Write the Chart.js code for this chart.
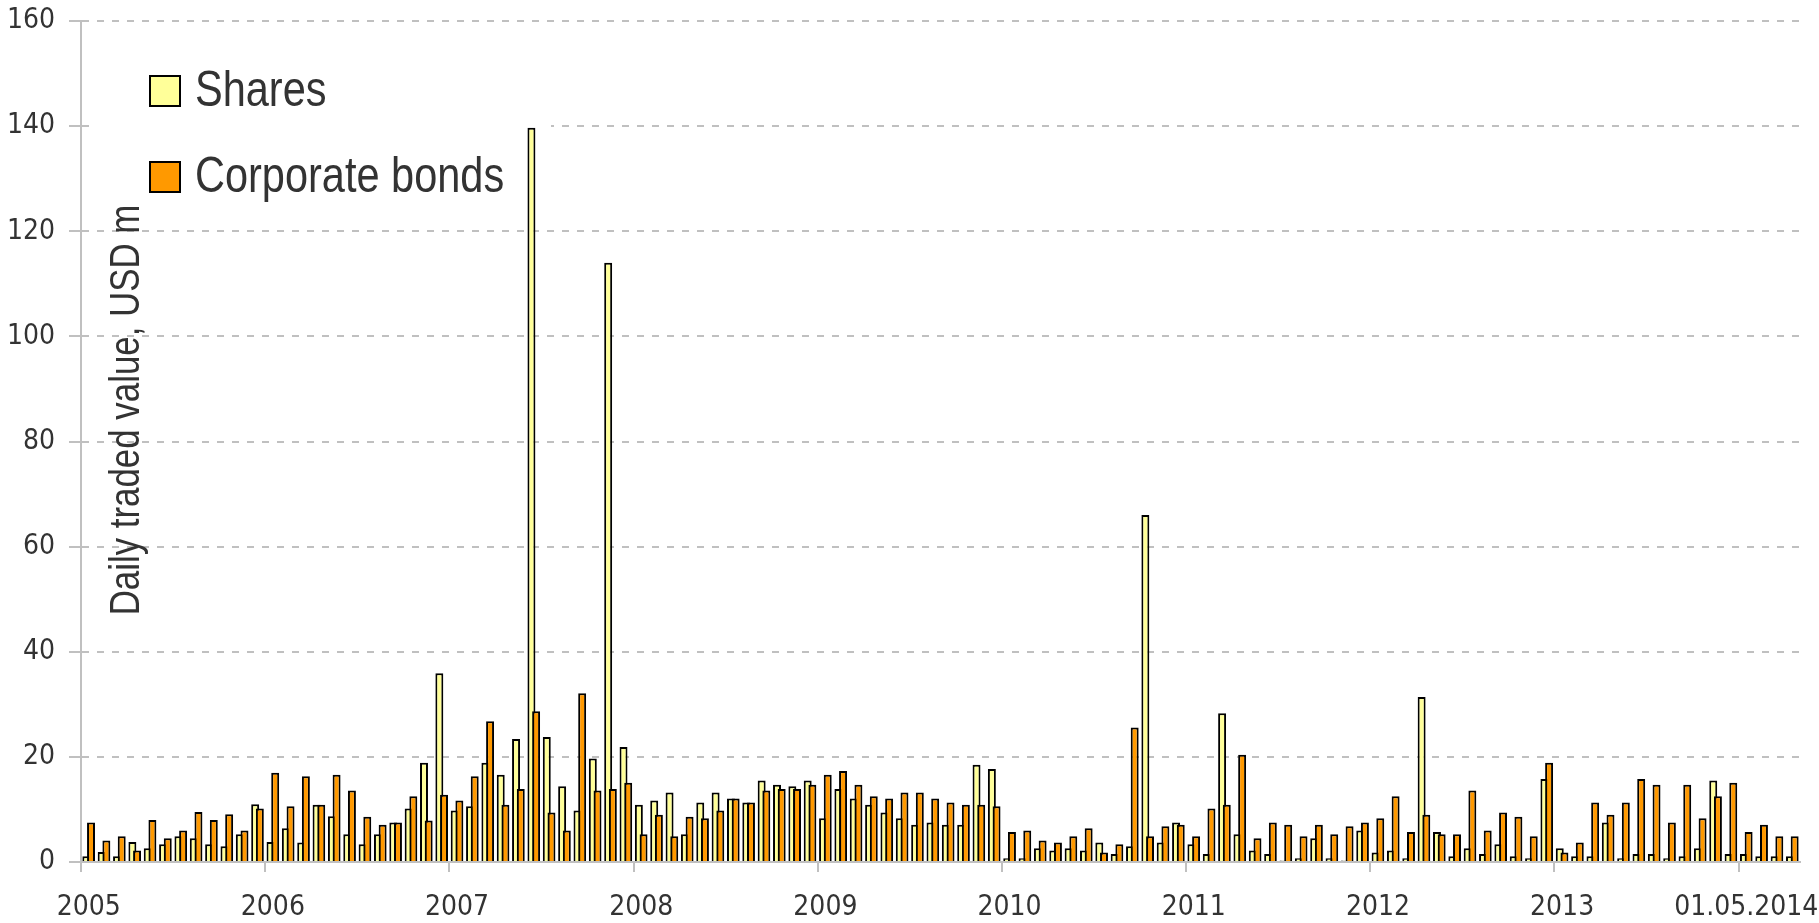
<!DOCTYPE html>
<html>
<head>
<meta charset="utf-8">
<title>Daily traded value</title>
<script src="https://cdn.jsdelivr.net/npm/chart.js@4.4.1/dist/chart.umd.min.js"></script>
<style>
  html, body { margin: 0; padding: 0; background: #fff; }
  #wrap { width: 1819px; height: 923px; }
</style>
</head>
<body>
<div id="wrap"><canvas id="chart"></canvas></div>
<script>
// monthly categories, Jan 2005 .. Apr 2014
const categories = [];
for (let y = 2005; y <= 2014; y++) {
  for (let m = 1; m <= 12; m++) {
    if (y === 2014 && m > 4) break;
    categories.push(y + '-' + String(m).padStart(2, '0'));
  }
}

const yearLabels = ['2005', '2006', '2007', '2008', '2009', '2010', '2011', '2012', '2013', '01.05.2014'];
const seriesNames = ['Shares', 'Corporate bonds'];
const yTitle = 'Daily traded value, USD m';

const shares = [
  1.1, 1.9, 1.1, 3.8, 2.6, 3.4, 4.9, 4.5, 3.4, 3.0, 5.3, 11.0,
  3.8, 6.4, 3.7, 10.9, 8.7, 5.3, 3.4, 5.3, 7.5, 10.2, 18.9, 35.9,
  9.8, 10.6, 18.9, 16.6, 23.4, 139.7, 23.8, 14.4, 9.8, 19.7, 114.0, 21.9,
  10.9, 11.7, 13.2, 5.3, 11.3, 13.2, 12.1, 11.3, 15.5, 14.7, 14.4, 15.5,
  8.3, 13.9, 12.1, 10.9, 9.4, 8.3, 7.1, 7.5, 7.1, 7.1, 18.5, 17.7,
  0.7, 0.7, 2.6, 2.2, 2.6, 2.2, 3.7, 1.5, 3.0, 66.0, 3.7, 7.5,
  3.4, 1.5, 28.3, 5.3, 2.2, 1.5, 0.3, 0.7, 4.5, 0.7, 0.3, 6.0,
  1.8, 2.2, 0.7, 31.4, 5.7, 1.1, 2.6, 1.5, 3.4, 1.1, 0.7, 15.8,
  2.6, 1.1, 1.1, 7.5, 0.7, 1.5, 1.5, 0.7, 1.1, 2.6, 15.5, 1.5,
  1.5, 1.1, 1.1, 1.1
];

const bonds = [
  7.5, 4.1, 4.9, 2.2, 8.0, 4.5, 6.0, 9.5, 8.0, 9.1, 6.0, 10.2,
  17.0, 10.6, 16.3, 10.9, 16.6, 13.6, 8.6, 7.1, 7.5, 12.5, 7.9, 12.8,
  11.7, 16.3, 26.8, 10.9, 13.9, 28.7, 9.4, 6.0, 32.1, 13.6, 13.9, 15.1,
  5.3, 9.0, 4.9, 8.6, 8.3, 9.8, 12.1, 11.3, 13.6, 13.9, 13.9, 14.7,
  16.6, 17.3, 14.7, 12.5, 12.1, 13.2, 13.2, 12.1, 11.3, 10.9, 10.9, 10.6,
  5.7, 6.0, 4.1, 3.7, 4.9, 6.4, 1.8, 3.4, 25.6, 4.9, 6.8, 7.1,
  4.9, 10.2, 10.9, 20.4, 4.5, 7.5, 7.1, 4.9, 7.1, 5.3, 6.8, 7.5,
  8.3, 12.5, 5.7, 9.0, 5.3, 5.3, 13.6, 6.0, 9.4, 8.6, 4.9, 18.9,
  1.8, 3.7, 11.3, 9.0, 11.3, 15.8, 14.7, 7.5, 14.7, 8.3, 12.5, 15.1,
  5.7, 7.1, 4.9, 4.9
];

const TICK_FONT = "'DejaVu Sans Condensed', 'Liberation Sans Narrow', sans-serif";
const LABEL_FONT = "'Liberation Sans', Arial, sans-serif";
const NARROW = 0.83; // squeeze Liberation Sans to look like Arial Narrow
const TEXT = '#333333';
const GRID = '#c0c0c0';

// shares go under the bonds where the two bars overlap
const sharesBehind = {
  id: 'sharesBehind',
  beforeDatasetsDraw(chart) {
    const a = chart.chartArea;
    // legend background hides the grid lines behind it
    chart.ctx.save();
    chart.ctx.fillStyle = '#ffffff';
    chart.ctx.fillRect(a.left + 12, a.top + 30, 458, 160);
    chart.ctx.restore();
    chart.getDatasetMeta(0).controller.draw();
  },
  beforeDatasetDraw(chart, args) {
    if (args.index === 0) return false;
  }
};

const legendAndTitle = {
  id: 'legendAndTitle',
  afterDraw(chart) {
    const ctx = chart.ctx;
    const a = chart.chartArea;
    ctx.save();
    chart.data.datasets.forEach((ds, i) => {
      const bx = a.left + 69;
      const by = a.top + 55 + i * 86;
      ctx.fillStyle = ds.backgroundColor;
      ctx.fillRect(bx, by, 30, 30);
      ctx.lineWidth = 2;
      ctx.strokeStyle = '#000';
      ctx.strokeRect(bx, by, 30, 30);
      ctx.save();
      ctx.translate(bx + 45, by + 16);
      ctx.scale(NARROW, 1);
      ctx.fillStyle = TEXT;
      ctx.font = '50px ' + LABEL_FONT;
      ctx.textBaseline = 'middle';
      ctx.textAlign = 'left';
      ctx.fillText(ds.label, 0, 0);
      ctx.restore();
    });
    // axis title sits inside the plot area
    ctx.translate(a.left + 58, a.top + 389);
    ctx.rotate(-Math.PI / 2);
    ctx.scale(NARROW, 1);
    ctx.fillStyle = TEXT;
    ctx.font = '42px ' + LABEL_FONT;
    ctx.textAlign = 'center';
    ctx.textBaseline = 'alphabetic';
    ctx.fillText(yTitle, 0, 0);
    ctx.restore();
  }
};

new Chart(document.getElementById('chart'), {
  type: 'bar',
  data: {
    labels: categories,
    datasets: [{
      label: seriesNames[0],
      data: shares,
      backgroundColor: '#ffff99',
      borderColor: '#000000',
      borderWidth: 2,
      categoryPercentage: 0.61,
      barPercentage: 1.7
    }, {
      label: seriesNames[1],
      data: bonds,
      backgroundColor: '#ff9900',
      borderColor: '#000000',
      borderWidth: 2,
      categoryPercentage: 0.61,
      barPercentage: 1.7
    }]
  },
  options: {
    responsive: true,
    maintainAspectRatio: false,
    animation: false,
    devicePixelRatio: 1,
    layout: {
      padding: { left: 0, right: 19, top: 21, bottom: 0 }
    },
    plugins: {
      legend: { display: false },
      tooltip: { enabled: false }
    },
    scales: {
      x: {
        afterFit: (s) => { s.height = 61; },
        grid: {
          offset: true,
          drawOnChartArea: false,
          drawTicks: true,
          tickLength: 10,
          lineWidth: 2,
          color: (c) => c.index % 12 === 0 ? GRID : 'rgba(0,0,0,0)'
        },
        border: { color: GRID, width: 2 },
        ticks: {
          autoSkip: false,
          maxRotation: 0,
          minRotation: 0,
          padding: 23,
          color: TEXT,
          font: { family: TICK_FONT, size: 28, lineHeight: 0.9 },
          callback: (v, i) => i % 12 === 0 ? yearLabels[i / 12] : ''
        }
      },
      y: {
        min: 0,
        max: 160,
        afterFit: (s) => {
          s.width = 81;
          s.paddingTop = 0;
          s.paddingBottom = 0;
        },
        grid: {
          color: GRID,
          lineWidth: 2,
          tickLength: 12,
          tickColor: GRID
        },
        border: { color: GRID, width: 2, dash: [7, 8] },
        ticks: {
          stepSize: 20,
          padding: 14,
          color: TEXT,
          font: { family: TICK_FONT, size: 28 }
        }
      }
    }
  },
  plugins: [sharesBehind, legendAndTitle]
});
</script>
</body>
</html>
